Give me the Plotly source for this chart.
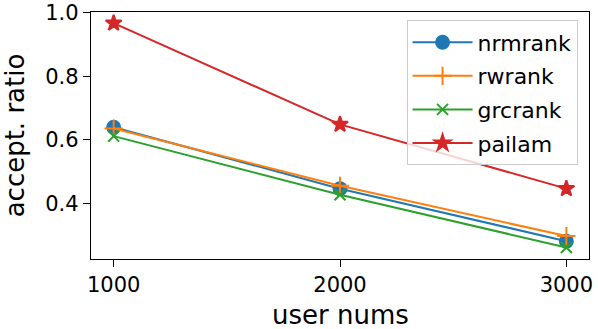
import plotly.graph_objects as go

user_nums = [1000, 2000, 3000]
nrmrank = [0.640, 0.447, 0.282]
rwrank = [0.636, 0.456, 0.298]
grcrank = [0.612, 0.428, 0.262]
pailam = [0.967, 0.649, 0.447]

series = [
    ("nrmrank", nrmrank, "#1f77b4", "circle", 13),
    ("rwrank", rwrank, "#ff7f0e", "cross-thin", 13),
    ("grcrank", grcrank, "#2ca02c", "x-thin", 11),
    ("pailam", pailam, "#d62728", "star", 12),
]

fig = go.Figure()
for name, vals, color, symbol, size in series:
    fig.add_trace(
        go.Scatter(
            x=user_nums,
            y=vals,
            name=name,
            legendgroup=name,
            mode="lines+markers",
            line=dict(color=color, width=2),
            marker=dict(symbol=symbol, size=size, color=color,
                        line=dict(color=color, width=2)),
        )
    )

axis_style = dict(
    showgrid=False,
    zeroline=False,
    showline=True,
    linecolor="black",
    linewidth=1.3,
    mirror=True,
    ticks="outside",
    ticklen=7,
    tickwidth=1.3,
    tickcolor="black",
    automargin=False,
    tickfont=dict(size=21, color="black"),
)

fig.update_xaxes(range=[900, 3100], tickvals=user_nums, **axis_style)
fig.update_yaxes(
    range=[0.226, 1.002],
    tickvals=[0.4, 0.6, 0.8, 1.0],
    tickformat=".1f",
    title=dict(text="accept. ratio", font=dict(size=26, color="black")),
    **axis_style,
)

# x title as annotation so it sits a bit lower than plotly's default
fig.add_annotation(
    text="user nums",
    xref="paper", yref="paper",
    x=0.5, y=-0.228,
    xanchor="center", yanchor="middle",
    showarrow=False,
    font=dict(size=26, color="black"),
)

fig.update_layout(
    width=598,
    height=329,
    margin=dict(l=91, r=9, t=12, b=70),
    plot_bgcolor="white",
    paper_bgcolor="white",
    font=dict(family="DejaVu Sans", color="black"),
    legend=dict(
        x=0.977,
        y=0.966,
        xanchor="right",
        yanchor="top",
        bgcolor="rgba(255,255,255,0.8)",
        bordercolor="#cccccc",
        borderwidth=1,
        font=dict(size=22),
        itemwidth=60,
        tracegroupgap=2,
    ),
)

fig.write_html(
    "out.html",
    config={"displayModeBar": False},
    post_script="document.body.style.margin='0';",
)
